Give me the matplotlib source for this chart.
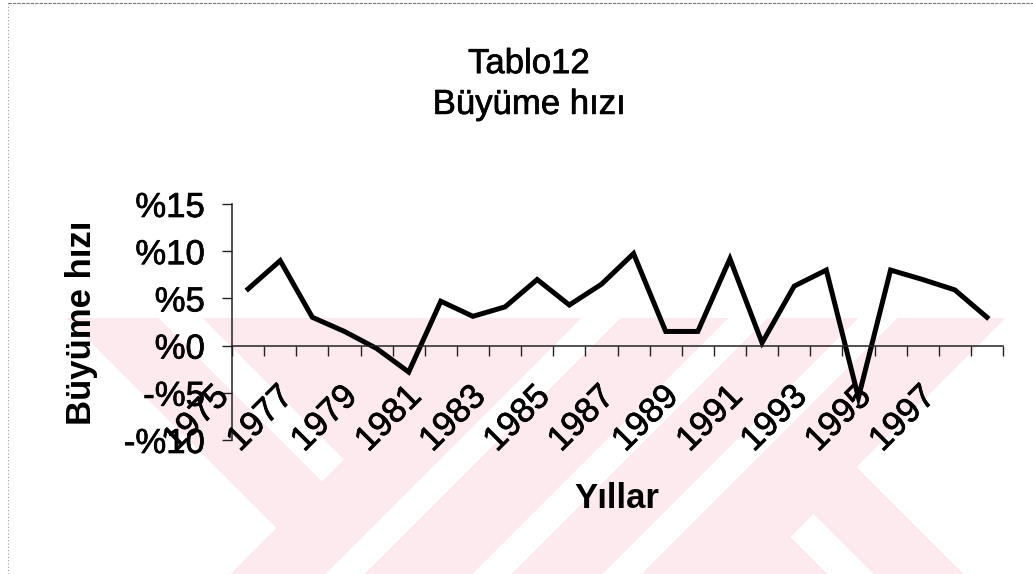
import numpy as np
import matplotlib
matplotlib.use("Agg")
import matplotlib.pyplot as plt
import matplotlib.patheffects as pe
from matplotlib.transforms import ScaledTranslation
from matplotlib.lines import Line2D

plt.rcParams['font.family'] = ['Liberation Sans', 'DejaVu Sans']

# Data
years = list(range(1975, 1999))
growth = [6.0, 9.0, 3.0, 1.5, -0.3, -2.8, 4.7, 3.1, 4.1, 7.0, 4.3, 6.5,
          9.75, 1.5, 1.5, 9.2, 0.3, 6.3, 8.0, -5.5, 8.0, 7.0, 5.9, 3.0]
y_ticks = [-10, -5, 0, 5, 10, 15]
y_tick_labels = ['-%10', '-%5', '%0', '%5', '%10', '%15']
label_years = [y for y in years if (y - 1975) % 2 == 0 and y < 1998]

W, H = 1033, 574
fig = plt.figure(figsize=(W / 100, H / 100), dpi=100)

# scanned text looks a bit heavier than plain Liberation Sans
heavy = [pe.withStroke(linewidth=0.5, foreground='black')]

# pale watermark behind the chart (pixel coordinates)
yy, xx = np.mgrid[0:H, 0:W]
s = xx + yy
d = xx - yy
pink = yy >= 318
pink &= ~((d < -251) & (s < 804))
pink &= ~((s < 803) & (d > -160) & (d < -115))
pink &= ~((s > 1322) & (d > 389))
pink &= ~((s > 1326) & (d > 253) & (d < 300))
for lo, hi in [(898, 938), (1045, 1085), (1175, 1215)]:
    pink &= ~((s > lo) & (s < hi))
img = np.ones((H, W, 3))
img[pink] = np.array([253, 234, 238]) / 255
bg = fig.add_axes([0, 0, 1, 1], zorder=-1)
bg.imshow(img, extent=[0, W, H, 0], aspect='auto', interpolation='nearest')
bg.set_xlim(0, W)
bg.set_ylim(H, 0)
bg.axis('off')
# dotted page border
bg.add_line(Line2D([8, 8], [3, H], color='#999999', lw=0.8, ls=(0, (1, 2))))
bg.add_line(Line2D([8, W], [3, 3], color='#777777', lw=0.8, ls=(0, (3, 1))))

ax = fig.add_axes([232 / W, 1 - 440 / H, 771 / W, 236 / H])
ax.patch.set_alpha(0)
x = np.arange(len(years))
ax.plot(x, growth, color='black', lw=3.6, solid_joinstyle='miter')

ax.set_xlim(-0.5, len(years) - 0.5)
ax.set_ylim(-10, 15)
ax.set_yticks(y_ticks)
ax.set_yticklabels(y_tick_labels, fontsize=25)
for t in ax.get_yticklabels():
    t.set_path_effects(heavy)
ax.set_xticks(np.arange(-0.5, len(years), 1))
ax.set_xticklabels([])
ax.spines['top'].set_visible(False)
ax.spines['right'].set_visible(False)
ax.spines['bottom'].set_position(('data', 0))
ax.spines['bottom'].set_color('#222222')
ax.spines['left'].set_color('#222222')
ax.spines['bottom'].set_linewidth(1.1)
ax.spines['left'].set_linewidth(1.1)
ax.tick_params(axis='y', direction='out', length=7.5, width=1.0, pad=12, colors='#222222', labelcolor='black')
ax.tick_params(axis='x', direction='out', length=7.5, width=1.0, colors='#222222')

# rotated year labels
off = ScaledTranslation(-0.52, -0.73, fig.dpi_scale_trans)
for yr in label_years:
    ax.text(years.index(yr), 0, str(yr), rotation=45, ha='center', va='center',
            fontsize=25, transform=ax.transData + off, path_effects=heavy)

fig.text(529 / W, 1 - 84 / H, 'Tablo12\nBüyüme hızı', ha='center', va='center',
         fontsize=25, linespacing=1.3, path_effects=heavy)
fig.text(82 / W, 1 - 323 / H, 'Büyüme hızı', rotation=90, ha='center', va='center',
         fontsize=25, fontweight='bold')
fig.text(617 / W, 1 - 499 / H, 'Yıllar', ha='center', va='center',
         fontsize=25, fontweight='bold')

fig.savefig('out.png', dpi=100)
